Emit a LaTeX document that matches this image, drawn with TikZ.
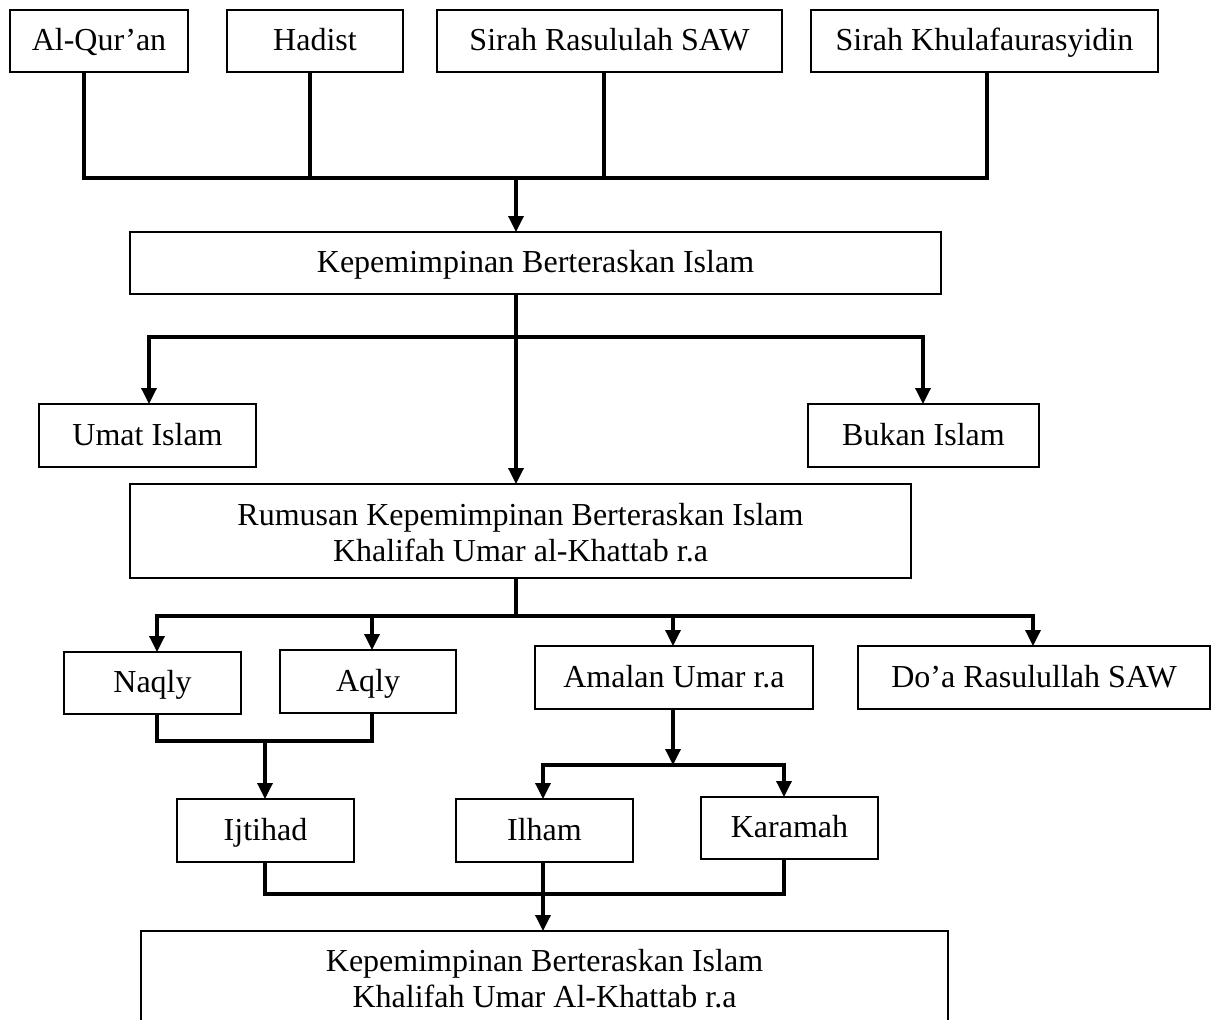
\documentclass[tikz,border=0pt]{standalone}
\usepackage{fontspec}
\setmainfont{Liberation Serif}
\usetikzlibrary{arrows.meta}
\begin{document}
\begin{tikzpicture}[x=0.5pt,y=-0.5pt,
 box/.style={draw,line width=0.9pt,inner sep=0pt,outer sep=0pt,align=center,font=\fontsize{16}{18}\selectfont},
 one/.style={box,text height=12.5pt,text depth=3pt},
 wh/.style 2 args={minimum width=#1*0.5pt,minimum height=#2*0.5pt},
 conn/.style={line width=1.7pt},
 arr/.style={conn,-{Triangle[width=7.5pt,length=8pt]}}]
\useasboundingbox (0,0) rectangle (1212,1019);
\fill[white] (0,0) rectangle (1212,1019);
\clip (0,0) rectangle (1212,1019);
% nodes
\node[one,wh={178}{62}] (quran) at (99,41) {Al-Qur’an};
\node[one,wh={176}{62}] (hadist) at (315,41) {Hadist};
\node[one,wh={345}{62}] (sirah) at (609.5,41) {Sirah Rasululah SAW};
\node[one,wh={347}{62}] (khul) at (984.5,41) {Sirah Khulafaurasyidin};
\node[one,wh={811}{62}] (kep) at (535.5,263) {Kepemimpinan Berteraskan Islam};
\node[one,wh={217}{63}] (umat) at (147.5,435.5) {Umat Islam};
\node[one,wh={231}{63}] (bukan) at (923.5,435.5) {Bukan Islam};
\node[box,wh={781}{94},text height=33.7pt,text depth=3pt] (rum) at (520.5,531) {Rumusan Kepemimpinan Berteraskan Islam\\Khalifah Umar al-Khattab r.a};
\node[one,wh={177}{62}] (naqly) at (152.5,683) {Naqly};
\node[one,wh={176}{63}] (aqly) at (368,681.5) {Aqly};
\node[one,wh={278}{63}] (amalan) at (674,677.5) {Amalan Umar r.a};
\node[one,wh={352}{63}] (doa) at (1034,677.5) {Do’a Rasulullah SAW};
\node[one,wh={177}{63}] (ijt) at (265.5,830.5) {Ijtihad};
\node[one,wh={177}{63}] (ilham) at (544.5,830.5) {Ilham};
\node[one,wh={177}{62}] (kar) at (789.5,828) {Karamah};
\node[box,wh={807}{100},text height=29.5pt,text depth=3pt] (fin) at (544.5,981) {Kepemimpinan Berteraskan Islam\\Khalifah Umar Al-Khattab r.a};
% top bus
\coordinate (b1) at (84,178);
\coordinate (b2) at (310,178);
\coordinate (b3) at (604,178);
\coordinate (b4) at (987,178);
\coordinate (bm) at (516,178);
\draw[conn] (quran.south -| b1) -- (b1) -- (b4) -- (khul.south -| b4);
\draw[conn] (hadist.south -| b2) -- (b2);
\draw[conn] (sirah.south -| b3) -- (b3);
\draw[arr] (bm) -- (kep.north -| bm);
% second level
\coordinate (c0) at (516,337);
\coordinate (cl) at (149,337);
\coordinate (cr) at (923,337);
\draw[arr] (kep.south -| c0) -- (rum.north -| c0);
\draw[arr] (cr) -- (cl) -- (umat.north -| cl);
\draw[arr] (cl) -- (cr) -- (bukan.north -| cr);
% third level
\coordinate (d0) at (516,616);
\coordinate (d1) at (157,616);
\coordinate (d2) at (372,616);
\coordinate (d3) at (673,616);
\coordinate (d4) at (1033,616);
\draw[conn] (rum.south -| d0) -- (d0);
\draw[arr] (d4) -- (d1) -- (naqly.north -| d1);
\draw[arr] (d1) -- (d4) -- (doa.north -| d4);
\draw[arr] (d2) -- (aqly.north -| d2);
\draw[arr] (d3) -- (amalan.north -| d3);
% naqly + aqly -> ijtihad
\coordinate (e1) at (157,741);
\coordinate (e2) at (372,741);
\coordinate (e0) at (265,741);
\draw[conn] (naqly.south -| e1) -- (e1) -- (e2) -- (aqly.south -| e2);
\draw[arr] (e0) -- (ijt.north -| e0);
% amalan -> ilham, karamah
\coordinate (f0) at (673,765);
\coordinate (f1) at (543,765);
\coordinate (f2) at (784,765);
\draw[arr] (amalan.south -| f0) -- (f0);
\draw[arr] (f2) -- (f1) -- (ilham.north -| f1);
\draw[arr] (f1) -- (f2) -- (kar.north -| f2);
% bottom
\coordinate (g1) at (265,894);
\coordinate (g2) at (784,894);
\coordinate (g0) at (543,894);
\draw[conn] (ijt.south -| g1) -- (g1) -- (g2) -- (kar.south -| g2);
\draw[arr] (ilham.south -| g0) -- (fin.north -| g0);
\end{tikzpicture}
\end{document}
